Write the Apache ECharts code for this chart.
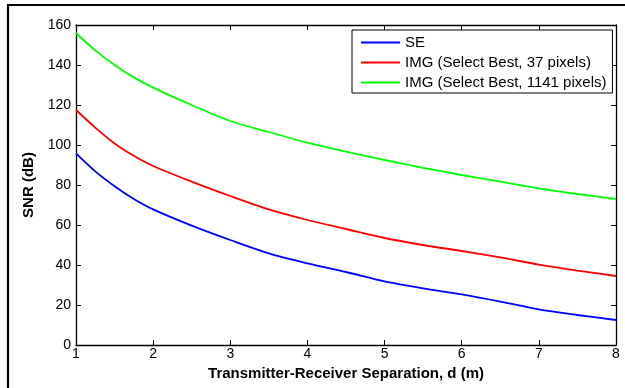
<!DOCTYPE html>
<html>
<head>
<meta charset="utf-8">
<script src="https://cdn.jsdelivr.net/npm/echarts@6/dist/echarts.min.js"></script>
<style>
  html, body { margin: 0; padding: 0; background: #fff; }
  #chart { width: 625px; height: 388px; }
</style>
</head>
<body>
<div id="chart"></div>
<script>
// Transmitter-receiver separation (m)
const distance = [1, 1.25, 1.5, 1.75, 2, 2.5, 3, 3.5, 4, 4.5, 5, 5.5, 6, 6.5, 7, 7.5, 8];

// SNR (dB) for each scheme
const snrSE = [95.8, 86.8, 79.4, 73, 67.8, 59.7, 52.5, 45.8, 40.8, 36.5, 31.8, 28.3, 25.3, 21.7, 17.8, 15, 12.5];
const snrImg37 = [117.5, 108.7, 100.8, 94.6, 89.5, 81.7, 74.5, 67.8, 62.5, 58, 53.5, 50, 47, 43.8, 40.2, 37.2, 34.5];
const snrImg1141 = [156, 147.3, 140, 133.8, 128.7, 120, 112, 106.5, 101.2, 96.7, 92.5, 88.6, 85, 81.7, 78.3, 75.5, 73];

const seriesNames = ['SE', 'IMG (Select Best, 37 pixels)', 'IMG (Select Best, 1141 pixels)'];
const seriesColors = ['#0000ff', '#ff0000', '#00ff00'];

const xTicks = [1, 2, 3, 4, 5, 6, 7, 8];
const yTicks = [0, 20, 40, 60, 80, 100, 120, 140, 160];

const FONT = '"Liberation Sans", Arial, sans-serif';

const pairs = (ys) => distance.map((d, i) => [d, ys[i]]);
const seriesValues = [snrSE, snrImg37, snrImg1141];

const axisLine = { show: true, onZero: false, lineStyle: { color: '#000', width: 1.3 } };
const tickIn = { show: true, inside: true, length: 5, lineStyle: { color: '#000', width: 1 } };

const chart = echarts.init(document.getElementById('chart'), null, { renderer: 'canvas' });

chart.setOption({
  animation: false,
  backgroundColor: '#fff',
  graphic: [{
    type: 'rect',
    shape: { x: 8, y: 5, width: 700, height: 500 },
    style: { fill: 'none', stroke: '#000', lineWidth: 2.2 },
    silent: true,
    z: 0
  }],
  grid: { left: 76, right: 9, top: 25, bottom: 43, containLabel: false },
  legend: {
    show: true,
    data: seriesNames,
    orient: 'vertical',
    left: 352,
    top: 30,
    padding: [5, 6, 3, 8],
    itemWidth: 39,
    itemHeight: 14,
    itemGap: 5,
    itemStyle: { opacity: 0 },
    lineStyle: { width: 2 },
    backgroundColor: '#fff',
    borderColor: '#000',
    borderWidth: 1,
    borderRadius: 0,
    textStyle: { fontFamily: FONT, fontSize: 15, color: '#000', lineHeight: 14 }
  },
  xAxis: [{
    type: 'value',
    min: xTicks[0],
    max: xTicks[xTicks.length - 1],
    interval: 1,
    position: 'bottom',
    name: 'Transmitter-Receiver Separation, d (m)',
    nameLocation: 'middle',
    nameGap: 20,
    nameTextStyle: { fontFamily: FONT, fontSize: 15, fontWeight: 'bold', color: '#000' },
    axisLine: axisLine,
    axisTick: tickIn,
    axisLabel: { margin: 2, fontFamily: FONT, fontSize: 14, color: '#000' },
    splitLine: { show: false }
  }, {
    type: 'value',
    min: xTicks[0],
    max: xTicks[xTicks.length - 1],
    interval: 1,
    position: 'top',
    axisLine: axisLine,
    axisTick: tickIn,
    axisLabel: { show: false },
    splitLine: { show: false }
  }],
  yAxis: [{
    type: 'value',
    min: yTicks[0],
    max: yTicks[yTicks.length - 1],
    interval: 20,
    position: 'left',
    name: 'SNR (dB)',
    nameLocation: 'middle',
    nameGap: 32,
    nameTextStyle: { fontFamily: FONT, fontSize: 15, fontWeight: 'bold', color: '#000' },
    axisLine: axisLine,
    axisTick: tickIn,
    axisLabel: { margin: 5, fontFamily: FONT, fontSize: 14, color: '#000' },
    splitLine: { show: false }
  }, {
    type: 'value',
    min: yTicks[0],
    max: yTicks[yTicks.length - 1],
    interval: 20,
    position: 'right',
    axisLine: axisLine,
    axisTick: tickIn,
    axisLabel: { show: false },
    splitLine: { show: false }
  }],
  series: seriesNames.map((name, i) => ({
    name: name,
    type: 'line',
    xAxisIndex: 0,
    yAxisIndex: 0,
    data: pairs(seriesValues[i]),
    smooth: 0.3,
    symbol: 'none',
    showSymbol: false,
    color: seriesColors[i],
    lineStyle: { color: seriesColors[i], width: 1.8 },
    z: 3
  }))
});
</script>
</body>
</html>
